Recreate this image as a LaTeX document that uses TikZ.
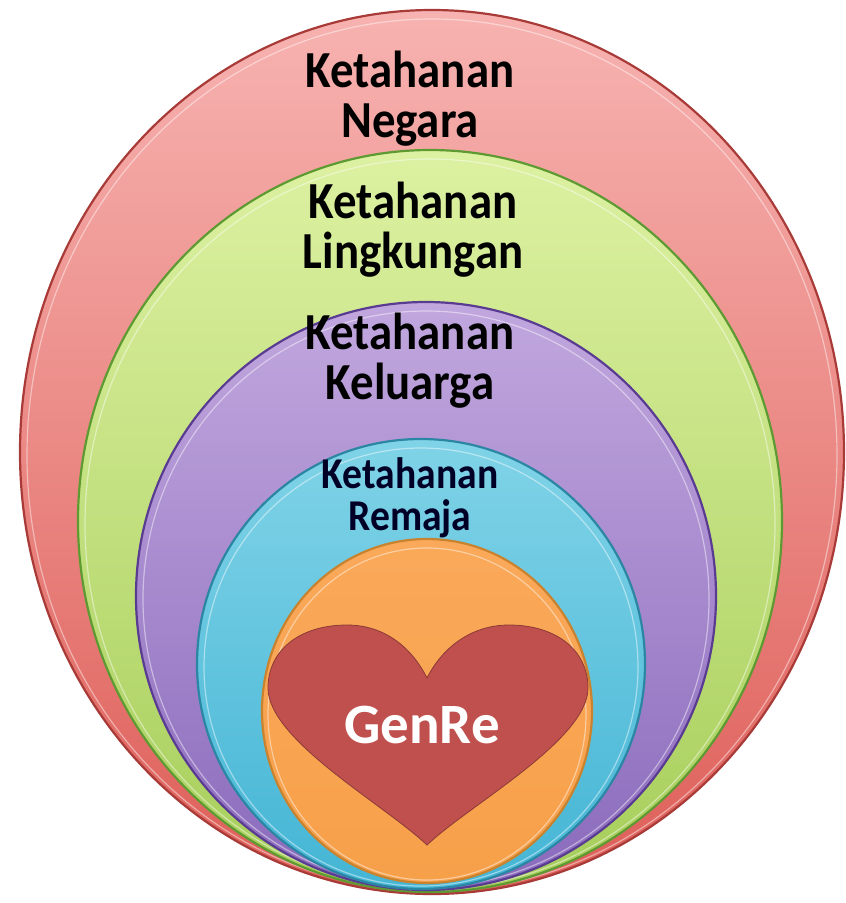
\documentclass[tikz,border=0pt]{standalone}
\usepackage{fontspec}
\setmainfont{Carlito}
\usetikzlibrary{shapes.geometric}
\definecolor{redT}{HTML}{F7B3B1}
\definecolor{redB}{HTML}{DE5E58}
\definecolor{redD}{HTML}{A83A37}
\definecolor{grnT}{HTML}{DDF1A2}
\definecolor{grnB}{HTML}{A6CE5A}
\definecolor{grnD}{HTML}{5E9A32}
\definecolor{purT}{HTML}{C1A7DE}
\definecolor{purB}{HTML}{8A6ABC}
\definecolor{purD}{HTML}{5A3B92}
\definecolor{cyaT}{HTML}{80D3E7}
\definecolor{cyaB}{HTML}{44B5D5}
\definecolor{cyaD}{HTML}{2A86A2}
\definecolor{ornT}{HTML}{FAA95A}
\definecolor{ornB}{HTML}{F7A04A}
\definecolor{ornD}{HTML}{C9822E}
\definecolor{heartF}{HTML}{C0504D}
\definecolor{heartD}{HTML}{8B3A38}
\tikzset{
  ring/.style={line width=2.2pt},
  glint/.style={draw=white, draw opacity=0.45, line width=1.2pt},
  lbl/.style={font=\bfseries\fontsize{52}{50}\selectfont, align=center, xscale=0.9, text=black, inner sep=0pt, anchor=base},
  lblsmall/.style={font=\bfseries\fontsize{44}{42}\selectfont, align=center, xscale=0.9, text=black!85!blue, inner sep=0pt, anchor=base}
}
\begin{document}
\begin{tikzpicture}[x=1pt,y=-1pt]
\useasboundingbox (0,0) rectangle (846,903);
% red
\shade[top color=redT, bottom color=redB] (432,452) ellipse [x radius=412, y radius=442];
\draw[ring, draw=redD] (432,452) ellipse [x radius=412, y radius=442];
\draw[glint] (432,455) ellipse [x radius=405, y radius=436];
% green
\shade[top color=grnT, bottom color=grnB] (430,521) ellipse [x radius=352, y radius=371];
\draw[ring, draw=grnD] (430,521) ellipse [x radius=352, y radius=371];
\draw[glint] (430,524) ellipse [x radius=345, y radius=365];
% purple
\shade[top color=purT, bottom color=purB] (426,596) ellipse [x radius=290, y radius=294];
\draw[ring, draw=purD] (426,596) ellipse [x radius=290, y radius=294];
\draw[glint] (426,599) ellipse [x radius=283, y radius=288];
% cyan
\shade[top color=cyaT, bottom color=cyaB] (421,664) ellipse [x radius=224, y radius=225];
\draw[ring, draw=cyaD] (421,664) ellipse [x radius=224, y radius=225];
\draw[glint] (421,667) ellipse [x radius=217, y radius=219];
% orange
\shade[top color=ornT, bottom color=ornB] (427,711) ellipse [x radius=165, y radius=172];
\draw[ring, draw=ornD] (427,711) ellipse [x radius=165, y radius=172];
\draw[glint] (427,714) ellipse [x radius=159, y radius=166];
% heart
\draw[fill=heartF, draw=heartD, line width=0.8pt]
  (427,678) .. controls (412,648) and (385,625) .. (347,625)
  .. controls (300,625) and (268,650) .. (268,688)
  .. controls (268,740) and (385,805) .. (427,845)
  .. controls (469,805) and (588,740) .. (588,688)
  .. controls (588,650) and (556,625) .. (509,625)
  .. controls (471,625) and (442,648) .. (427,678) -- cycle;
% labels
\node[lbl] (negara) at (410,137) {Ketahanan\\Negara};
\node[lbl] (lingkungan) at (413,268) {Ketahanan\\Lingkungan};
\node[lbl] (keluarga) at (410,399) {Ketahanan\\Keluarga};
\node[lblsmall] (remaja) at (410,530) {Ketahanan\\Remaja};
\node[font=\bfseries\fontsize{57}{57}\selectfont, text=white, inner sep=0pt, anchor=base] (genre) at (422,743) {GenRe};
\end{tikzpicture}
\end{document}
